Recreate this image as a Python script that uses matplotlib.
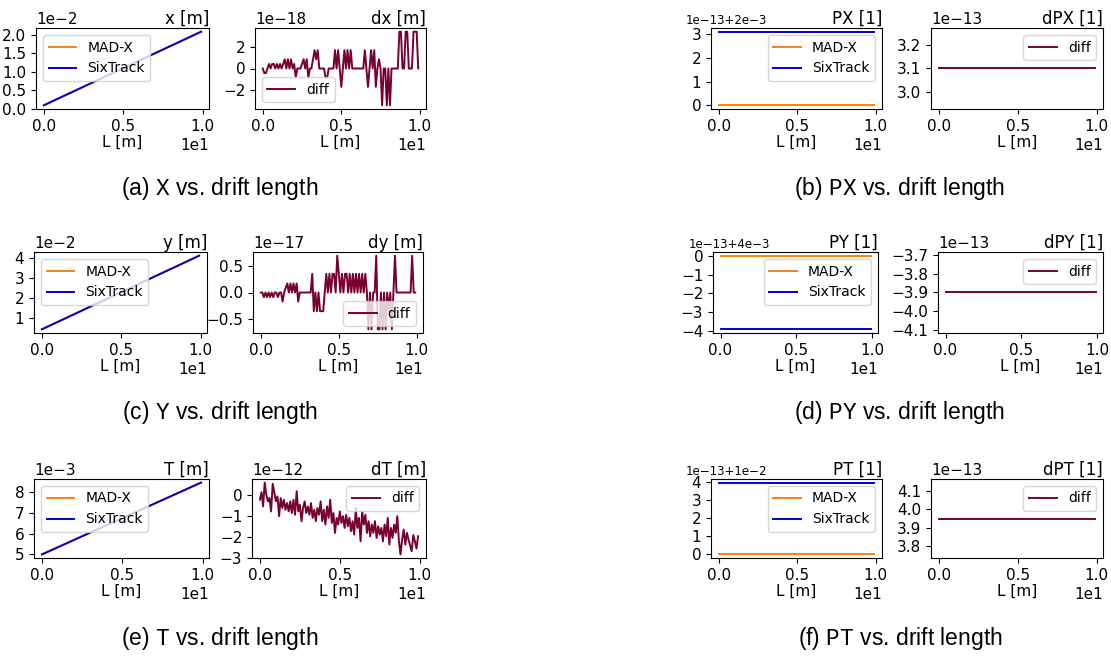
import numpy as np
import matplotlib
matplotlib.use("Agg")
import matplotlib.pyplot as plt

# drift length sample points [m]
drift_length = np.round(np.arange(100) * 0.1, 1)
line_length = [0.0, 9.9]
length_ticks = [0, 5, 10]

# coordinates (straight lines, MAD-X and SixTrack overlap)
x_madx = [0.0010, 0.0208]
x_sixtrack = [0.0010, 0.0208]
y_madx = [0.0041, 0.0412]
y_sixtrack = [0.0041, 0.0412]
t_madx = [0.00500, 0.00845]
t_sixtrack = [0.00500, 0.00845]

# momenta (constant along the drift)
px_madx = [2e-3, 2e-3]
px_sixtrack = [2e-3 + 3.1e-13, 2e-3 + 3.1e-13]
py_madx = [4e-3, 4e-3]
py_sixtrack = [4e-3 - 3.9e-13, 4e-3 - 3.9e-13]
pt_madx = [1e-2, 1e-2]
pt_sixtrack = [1e-2 + 3.95e-13, 1e-2 + 3.95e-13]

# differences SixTrack - MAD-X
dx_diff = np.array([
    0.0, -0.43, -0.43, 0.0, 0.43, 0.0, 0.43, 0.43, 0.0, 0.43,
    0.0, 0.43, 0.0, 0.43, 0.87, 0.0, 0.87, 0.0, 0.87, 0.0,
    0.43, -0.87, 0.0, 0.0, 0.0, 0.43, 0.87, 0.0, 0.87, -0.87,
    0.0, 0.0, 0.87, 1.73, 0.87, 1.73, 0.0, 0.0, 0.0, 0.0,
    -0.87, -0.87, 0.0, 0.0, 0.0, 0.0, 1.73, 0.0, 1.73, 0.0,
    -1.73, 0.0, 1.73, 0.0, 1.73, 0.0, 1.73, 0.0, 0.0, 0.0,
    0.0, 0.0, 0.0, 0.0, 0.0, 1.73, 0.0, -1.73, 0.0, 1.73,
    0.0, 1.73, -1.73, 0.0, 0.87, 0.0, -3.47, 0.0, 0.0, -3.47,
    0.0, -3.47, 0.0, 0.0, 0.0, 0.0, 0.0, 3.47, 3.47, 0.0,
    0.0, 3.47, 3.47, 0.0, 0.0, 0.0, 3.47, 3.47, 3.47, 0.0]) * 1e-18
dy_diff = np.array([
    0.0, 0.0, -0.087, 0.0, -0.087, 0.0, -0.087, 0.0, -0.087, 0.0,
    0.0, -0.087, 0.0, 0.0, -0.17, 0.0, 0.087, 0.17, 0.0, 0.17,
    0.0, 0.17, 0.0, 0.17, -0.17, 0.0, 0.0, 0.0, 0.0, 0.0,
    0.0, 0.0, 0.0, 0.35, -0.35, 0.0, -0.35, 0.0, -0.35, -0.35,
    -0.35, 0.0, 0.35, 0.0, 0.35, 0.0, 0.35, 0.35, 0.0, 0.69,
    0.35, 0.0, 0.35, 0.0, 0.35, 0.35, 0.0, 0.35, 0.0, 0.35,
    0.0, 0.35, 0.0, 0.35, 0.0, 0.35, 0.0, 0.35, 0.0, -0.69,
    0.0, -0.69, 0.0, 0.0, 0.69, -0.69, -0.69, 0.0, -0.69, 0.0,
    -0.69, 0.0, -0.35, 0.0, -0.69, 0.0, 0.69, 0.0, 0.0, 0.0,
    0.0, 0.0, 0.0, 0.0, 0.0, 0.0, 0.0, 0.69, 0.0, 0.0]) * 1e-17
dt_diff = np.array([
    -0.21, 0.15, -0.53, 0.61, 0.03, -0.29, -0.13, -0.77, 0.55, 0.15,
    -0.29, -0.05, -1.00, -0.13, -0.61, -0.21, -0.69, -0.37, -0.77, -0.29,
    -0.85, -0.21, -0.93, 0.20, -0.77, -0.45, -1.24, -0.61, -0.29, -0.85,
    -0.53, -0.93, -0.37, -1.08, -0.69, -1.24, -0.61, -0.93, -0.29, -1.24,
    -0.69, -1.40, -0.53, -1.08, -0.21, -1.32, -0.85, -1.80, -1.08, -1.40,
    -0.77, -1.32, -1.00, -1.56, -0.93, -1.48, -1.08, -1.72, -1.24, -1.88,
    -0.61, -1.56, -1.08, -2.20, -0.77, -1.40, -0.93, -1.80, -1.24, -1.96,
    -1.40, -1.80, -1.24, -2.04, -1.48, -1.88, -1.56, -2.20, -1.40, -1.96,
    -1.08, -2.36, -1.56, -2.04, -1.40, -1.80, -1.00, -2.20, -2.83, -2.12,
    -1.64, -2.36, -1.80, -2.12, -2.40, -2.68, -1.90, -2.20, -2.55, -1.96]) * 1e-12
dpx_diff = [3.1e-13, 3.1e-13]
dpy_diff = [-3.9e-13, -3.9e-13]
dpt_diff = [3.95e-13, 3.95e-13]

# tick values shown on the y axes
x_ticks = [0.0, 0.005, 0.010, 0.015, 0.020]
dx_ticks = [-2e-18, 0.0, 2e-18]
px_ticks = [2e-3, 2e-3 + 1e-13, 2e-3 + 2e-13, 2e-3 + 3e-13]
dpx_ticks = [3.0e-13, 3.1e-13, 3.2e-13]
y_ticks = [0.01, 0.02, 0.03, 0.04]
dy_ticks = [-0.5e-17, 0.0, 0.5e-17]
py_ticks = [4e-3 - 4e-13, 4e-3 - 3e-13, 4e-3 - 2e-13, 4e-3 - 1e-13, 4e-3]
dpy_ticks = [-4.1e-13, -4.0e-13, -3.9e-13, -3.8e-13, -3.7e-13]
t_ticks = [0.005, 0.006, 0.007, 0.008]
dt_ticks = [-3e-12, -2e-12, -1e-12, 0.0]
pt_ticks = [1e-2, 1e-2 + 1e-13, 1e-2 + 2e-13, 1e-2 + 3e-13, 1e-2 + 4e-13]
dpt_ticks = [3.8e-13, 3.9e-13, 4.0e-13, 4.1e-13]

captions = [r"(a) $\mathtt{X}$ vs. drift length", r"(b) $\mathtt{PX}$ vs. drift length",
            r"(c) $\mathtt{Y}$ vs. drift length", r"(d) $\mathtt{PY}$ vs. drift length",
            r"(e) $\mathtt{T}$ vs. drift length", r"(f) $\mathtt{PT}$ vs. drift length"]

madx_color = "#ff7f0e"
sixtrack_color = "#0000cd"
diff_color = "#770030"

plt.rcParams["font.size"] = 11
plt.rcParams["axes.titlesize"] = 12
plt.rcParams["legend.fontsize"] = 10
plt.rcParams["lines.linewidth"] = 1.4
plt.rcParams["mathtext.fontset"] = "custom"
plt.rcParams["mathtext.tt"] = "Liberation Mono"
plt.rcParams["mathtext.rm"] = "Liberation Sans"

width_px, height_px = 1111, 657
figure = plt.figure(figsize=(width_px / 100, height_px / 100), dpi=100)


def add_axes(left, right, top, bottom):
    return figure.add_axes([left / width_px, 1 - bottom / height_px,
                            (right - left) / width_px, (bottom - top) / height_px])


def finish_axes(axis, title, y_ticks_list, order, offset=0.0):
    axis.set_title(title, loc="right", pad=3)
    axis.set_xticks(length_ticks)
    axis.set_yticks(y_ticks_list)
    axis.set_xlabel("L [m]", labelpad=1)
    axis.ticklabel_format(axis="x", style="sci", scilimits=(0, 0))
    axis.ticklabel_format(axis="y", style="sci", scilimits=(order, order), useOffset=offset)


def compare_plot(axis, madx, sixtrack, title, y_ticks_list, order, legend_loc, offset=0.0):
    axis.plot(line_length, madx, color=madx_color, label="MAD-X")
    axis.plot(line_length, sixtrack, color=sixtrack_color, label="SixTrack")
    axis.legend(loc=legend_loc)
    finish_axes(axis, title, y_ticks_list, order, offset)
    if offset:
        offset_text = axis.yaxis.get_offset_text()
        offset_text.set_fontsize(8.5)
        offset_text.set_x(-0.15)


def diff_plot(axis, length, diff, title, y_ticks_list, order, legend_loc):
    axis.plot(length, diff, color=diff_color, label="diff")
    axis.legend(loc=legend_loc)
    finish_axes(axis, title, y_ticks_list, order)


rows = [(28, 109), (252, 333), (479, 558)]

compare_plot(add_axes(36, 209, *rows[0]), x_madx, x_sixtrack, "x [m]", x_ticks, -2, "upper left")
diff_plot(add_axes(255, 426, *rows[0]), drift_length, dx_diff, "dx [m]", dx_ticks, -18, "lower left")
compare_plot(add_axes(711, 882, *rows[0]), px_madx, px_sixtrack, "PX [1]", px_ticks, -13,
             "upper right", offset=2e-3)
diff_plot(add_axes(931, 1103, *rows[0]), line_length, dpx_diff, "dPX [1]", dpx_ticks, -13, "upper right")

compare_plot(add_axes(34, 207, *rows[1]), y_madx, y_sixtrack, "y [m]", y_ticks, -2, "upper left")
diff_plot(add_axes(253, 423, *rows[1]), drift_length, dy_diff, "dy [m]", dy_ticks, -17, "lower right")
compare_plot(add_axes(713, 878, *rows[1]), py_madx, py_sixtrack, "PY [1]", py_ticks, -13,
             "upper right", offset=4e-3)
diff_plot(add_axes(938, 1103, *rows[1]), line_length, dpy_diff, "dPY [1]", dpy_ticks, -13, "upper right")

compare_plot(add_axes(34, 209, *rows[2]), t_madx, t_sixtrack, "T [m]", t_ticks, -3, "upper left")
diff_plot(add_axes(252, 426, *rows[2]), drift_length, dt_diff, "dT [m]", dt_ticks, -12, "upper right")
compare_plot(add_axes(711, 882, *rows[2]), pt_madx, pt_sixtrack, "PT [1]", pt_ticks, -13,
             "upper right", offset=1e-2)
diff_plot(add_axes(931, 1103, *rows[2]), line_length, dpt_diff, "dPT [1]", dpt_ticks, -13, "upper right")

caption_rows = [188, 413, 638]
for i, caption in enumerate(captions):
    x_center = 220 if i % 2 == 0 else 900
    figure.text(x_center / width_px, 1 - caption_rows[i // 2] / height_px, caption,
                ha="center", va="center", fontsize=16.5, family="Liberation Sans")

figure.savefig("out.png", dpi=100)
